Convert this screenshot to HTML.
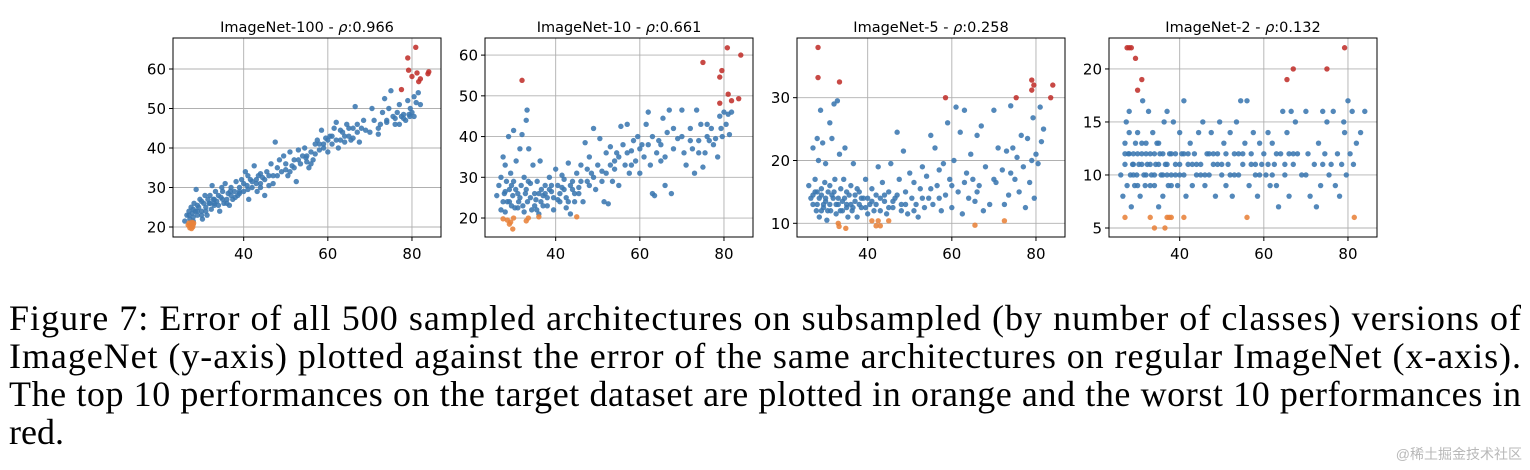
<!DOCTYPE html>
<html><head><meta charset="utf-8"><style>
html,body{margin:0;padding:0;background:#fff;}
svg{display:block;}
</style></head><body>
<svg id="fig" width="1530" height="470" viewBox="0 0 1530 470" xmlns="http://www.w3.org/2000/svg">
<g id="panels"></g>
<g font-family="'Liberation Serif', serif" font-size="36" fill="#000">
<text x="9" y="330" textLength="1512" lengthAdjust="spacing">Figure 7: Error of all 500 sampled architectures on subsampled (by number of classes) versions of</text>
<text x="9" y="368" textLength="1512" lengthAdjust="spacing">ImageNet (y-axis) plotted against the error of the same architectures on regular ImageNet (x-axis).</text>
<text x="9" y="406" textLength="1512" lengthAdjust="spacing">The top 10 performances on the target dataset are plotted in orange and the worst 10 performances in</text>
<text x="9" y="444">red.</text>
</g>
<text x="1522" y="459" text-anchor="end" font-family="'Liberation Sans','Noto Sans CJK SC',sans-serif" font-size="14" fill="#b8b8b8">@稀土掘金技术社区</text>
</svg>
<script>
const xTicks = [40, 60, 80];
const p1Ticks = [20, 30, 40, 50, 60];
const p2Ticks = [20, 30, 40, 50, 60];
const p3Ticks = [10, 20, 30];
const p4Ticks = [5, 10, 15, 20];
const p1Titles = ["ImageNet-100", "0.966"];
const p2Titles = ["ImageNet-10", "0.661"];
const p3Titles = ["ImageNet-5", "0.258"];
const p4Titles = ["ImageNet-2", "0.132"];

const p1Blue = [[26,21.5],[26.5,23],[27,24],[27.2,22],[27.5,25],[27.8,23.5],[28,22.5],[28.2,26],[28.5,24],[28.7,29.5],[29,23],[29.3,25],[29.6,27],[30,24],[30.2,22],[30.5,26],[30.8,28],[31,25],[31.3,23],[31.5,27],[31.8,26],[32,28],[32.3,24.5],[32.5,30.5],[32.8,27],[33,25.5],[33.3,29],[33.6,26.5],[34,28],[34.3,24],[34.6,27.5],[35,29],[35.3,26],[35.6,31],[36,27],[36.3,28.5],[36.6,25.5],[37,30],[37.4,27],[37.8,29],[38.2,31.5],[38.6,28],[39,30],[39.5,32],[40,29],[40.4,34],[40.8,30.5],[41.2,27],[41.6,32],[42,30],[42.5,35.5],[43,31],[43.5,33],[44,30],[44.5,32.5],[45,28],[45.5,34],[46,30.5],[46.5,36],[47,33],[47.5,41.5],[48,35],[48.5,37],[49,34],[49.5,38],[50,36],[50.5,33],[51,39],[51.5,35.5],[52,37],[52.5,31.5],[53,39.5],[53.5,36],[54,38],[54.5,40],[55,36.5],[55.5,35],[56,39],[56.5,37],[57,41],[57.5,42],[58,39.5],[58.5,44.5],[59,40],[59.5,42.5],[60,39],[60.5,43],[61,41],[61.5,45],[62,46.5],[62.5,40],[63,42],[63.5,44],[64,41.5],[64.5,46],[65,43],[65.5,42],[66,45],[66.5,50.5],[67,44],[67.5,41.5],[68,45],[69,44.5],[70,44],[70.5,50],[71,47],[72,43.5],[72.5,46],[73,49],[73.5,52.5],[74,47],[74.5,50],[75,54.5],[75.5,48],[76,47.5],[76.5,49],[77,46],[77.5,48],[78,48.5],[78.5,47],[79,52],[79.3,48.5],[79.6,50],[80,49],[80.5,53],[81,51.5],[81.5,54],[82,51],[34.8,30],[36.8,29],[41,33],[43.2,29],[33,27],[30,26.5],[29,25.5],[28,24.5],[39,28.5],[44,33.5],[47,31],[51,34],[54.8,37.5],[58,41],[63,44.5],[68.5,47],[77,51],[80.5,48],[27,23],[28,21.5],[29,24],[30,23],[31,24],[32,26],[33,26],[34,25.5],[35,27],[36,26],[37,28],[38,27.5],[39,29],[40,31],[41,29.5],[42,31.5],[43,32],[44,31],[45,32],[46,33],[48,33],[50,34.5],[52,35],[53,37],[55,38],[56,36],[57,38.5],[59,41],[60,42],[61,43],[62,42],[64,43],[65,45],[66,42.5],[67,46],[72,45],[74,46.5],[76,46],[78,47.5],[79.5,48]];
const p1Orange = [[26.8,20.5],[27,21],[27.2,19.8],[27.5,20.8],[27.7,21.2],[27.9,20],[28,20.6],[27.3,20.3],[27.6,19.6],[28.1,21]];
const p1Red = [[77.5,54.8],[79,62.8],[79.2,59.7],[80,58.1],[80.9,65.5],[81.2,59],[81.6,56.8],[82,57.5],[83.8,58.8],[84,59.3]];

const p2Blue = [[26,25.5],[26.5,28],[27,30],[27,22],[27.5,35],[27.8,26],[28,33],[28,21.5],[28.3,29],[28.5,24],[28.8,40],[29,27],[29.3,31],[29.5,23],[29.8,25.5],[30,41.5],[30,29],[30.3,22.5],[30.6,34],[31,26],[31.2,24],[31.5,37],[31.8,28],[32,40.5],[32.2,23],[32.5,30],[32.8,26],[33,44],[33.2,46.5],[33.3,24],[33.6,37],[34,28.5],[34.3,22],[34.6,33],[35,26],[35.3,24.5],[35.6,29],[36,21],[36.3,34],[36.6,27],[37,23],[37.5,28],[38,25],[38.5,30],[39,26.5],[39.5,22],[40,32],[40.5,28],[41,24],[41.5,30.5],[42,27],[42.5,25],[43,33.5],[43.5,21],[44,29],[44.5,26],[45,31],[45.5,27.5],[46,33],[46.5,24],[47,38.5],[47.5,29],[48,35],[48.5,31],[49,42],[49.5,27],[50,33],[50.5,39.5],[51,31.5],[51.5,24],[52,36],[52.5,23.5],[53,37.5],[53.5,29],[54,32],[54.5,36],[55,28],[55.5,42.5],[56,38],[56.5,33],[57,43],[57.5,31],[58,36.5],[58.5,39],[59,34],[59.5,40],[60,31],[60.5,38],[61,35],[61.5,43],[62,46],[62.5,33],[63,26],[63.5,25.5],[64,36],[64.5,39],[65,34],[65.5,44.5],[66,28],[66.5,41],[67,46.5],[67.5,26],[68,37],[69,39.5],[70,46.5],[70.5,36],[71,33],[72,42],[72.5,37],[73,31],[73.5,46.5],[74,39],[74.5,43],[75,32.5],[75.5,36],[76,40],[76.5,39],[77,42],[77.5,38],[78,39.5],[78.5,35],[79,45],[79.3,42],[79.6,40],[80,46],[80.5,43],[81,45.5],[81.3,40.5],[81.8,46],[29,24],[31,22.5],[33,27],[35,23],[37,25.5],[39,28],[41,26],[43,24],[34,25],[30.5,27],[28,26.5],[36,26],[38,23],[42,29.5],[44,27],[46,29],[48,28],[52,31],[54,34],[58,33],[62,38],[66,35],[70,40],[74,36],[27.5,24],[29.5,28],[31.5,25],[32.5,21.5],[33.5,29],[35.5,22],[36.5,24],[37.5,26],[38.5,27],[39.5,25],[40.5,24.5],[41.5,27.5],[42.5,22.5],[43.5,28],[44.5,24],[45.5,26],[47.5,32],[49,30],[51,29],[53,33],[55,35],[57,36],[60,37],[63,40],[65,38],[68,42],[72,39],[76,43]];
const p2Orange = [[27.5,19.8],[28.5,19.5],[29,18.5],[29.3,19],[29.8,17.3],[30,20],[33,19.3],[33.5,20],[36,20.3],[45,20.3]];
const p2Red = [[32,53.8],[75,58.2],[79,54.6],[79.5,56.2],[80.8,61.8],[81,50.4],[79,48.2],[81.8,48.8],[83.5,49.3],[84,60]];

const p3Blue = [[26,16],[26.5,14],[27,22],[27,13],[27.5,17],[27.8,12],[28,23.5],[28,15],[28.3,20],[28.5,11],[28.8,28],[29,14.5],[29.3,22.8],[29.5,12.5],[29.8,16.5],[30,19.5],[30,13.5],[30.3,10.5],[30.6,15],[31,26],[31.2,12],[31.5,23.5],[31.8,14],[32,29],[32.2,17],[32.5,11.5],[32.8,29.5],[33,13],[33.3,21],[33.6,15.5],[34,12],[34.3,17],[34.6,22],[35,13],[35.3,11],[35.6,14.5],[36,16],[36.3,12],[36.6,19.5],[37,13.5],[37.5,11],[38,15],[38.5,12.5],[39,14],[39.5,17],[40,11.5],[40.5,13],[41,15.5],[41.5,12],[42,14.5],[42.5,19],[43,12],[43.5,16.5],[44,13.5],[44.5,11.5],[45,15],[45.5,19.5],[46,12.5],[46.5,14],[47,24.5],[47.5,17],[48,13],[48.5,21.5],[49,15],[49.5,11.5],[50,18],[50.5,14],[51,16.5],[51.5,13],[52,11],[52.5,15.5],[53,19],[53.5,12.5],[54,17.5],[54.5,14],[55,24],[55.5,13],[56,22],[56.5,16],[57,18.5],[57.5,12],[58,19.5],[58.5,14.5],[59,26],[59.5,17],[60,12.5],[60.5,20],[61,28.5],[61.5,15],[62,24.5],[62.5,11.5],[63,28],[63.5,18],[64,14],[64.5,21],[65,17],[65.5,13.5],[66,24],[66.5,16],[67,25.5],[67.5,12],[68,19],[69,13],[70,28],[70.5,16.5],[71,22],[72,18.5],[72.5,13],[73,21.5],[73.5,14.5],[74,28.7],[74.5,22],[75,17],[75.5,20.5],[76,15],[76.5,24],[77,19],[77.5,12.5],[78,23.5],[78.5,16.5],[79,20],[79.3,26.8],[79.6,14],[80,21],[80.5,19.5],[81,28.5],[81.3,23],[81.8,25],[27,14.5],[28,13],[29,15.5],[30,14],[31,13],[32,15],[33,14],[34,13.5],[35,15],[36,13],[37,14.5],[38,13],[40,14],[42,13],[44,14.5],[46,13.5],[48,12],[31,16],[29,12],[35,12.5],[27.5,15],[28.5,14],[29.5,13],[30.5,12],[31.5,14.5],[32.5,13],[33.5,12],[34.5,14],[36.5,12.5],[37.5,15.5],[38.5,14],[39.5,12.5],[41,13.5],[43,14],[45,12.5],[47,14.5],[49,13],[51,12],[53,14],[55,15.5],[57,14],[60,16],[63,16.5],[66,15],[70,17],[74,18]];
const p3Orange = [[33,10],[33.2,9.5],[34.8,9.2],[41,10.4],[42,9.6],[42.5,10.4],[43,9.6],[45,10.4],[65.5,9.7],[72.5,10.4]];
const p3Red = [[28.2,38],[28.2,33.2],[33.3,32.5],[58.5,30],[75.3,30],[79,32.8],[79,31.2],[79.5,32],[83.5,30],[84,32]];

const p4Blue = [[26,10],[26.5,8],[27,13],[27,11],[27.3,15],[27.5,9],[27.8,12],[28,14],[28,16],[28.3,10],[28.5,7],[28.8,11],[29,12],[29.3,9],[29.5,13],[29.8,10],[30,14],[30.3,11],[30.6,8],[31,12],[31.2,17],[31.5,10],[31.8,9],[32,13],[32.3,11],[32.6,16],[33,12],[33.3,10],[33.6,14],[34,9],[34.3,11],[34.6,13],[35,7],[35.3,12],[35.6,10],[36,8],[36.3,15],[36.6,11],[37,16],[37.3,9],[37.6,12],[38,10],[38.5,15],[39,11],[39.5,9],[40,14],[40.5,12],[41,17],[41,10],[41.5,8],[42,11],[42.5,13],[43,9],[43.5,12],[44,10],[44.5,14],[45,11],[45.5,15],[46,9],[46.5,12],[47,10],[47.5,14],[48,11],[48.5,8],[49,12],[49.5,15],[50,10],[50.5,13],[51,9],[51.5,11],[52,14],[52.5,8],[53,12],[53.5,15],[54,10],[54.5,17],[55,11],[55.5,13],[56,17],[56.5,9],[57,12],[57.5,14],[58,10],[58.5,8],[59,13],[59.5,11],[60,12],[60.5,10],[61,14],[61.5,9],[62,13],[62.5,11],[63,9],[63.5,7],[64,12],[64.5,16],[65,10],[65.5,14],[66,8],[66.5,16],[67,11],[67.5,15],[68,12],[69,10],[70,16],[70.5,12],[71,8],[72,11],[72.5,7],[73,13],[73.5,9],[74,16],[74.5,12],[75,15],[75.5,10],[76,11],[76.5,16],[77,9],[77.5,12],[78,8],[78.5,11],[79,15],[79.2,14],[79.6,10],[80,17],[80.5,12],[81,16],[81.3,11],[82,13],[83,14],[84,16],[29,11],[30,12],[31,11],[32,10],[33,11],[34,12],[35,11],[36,10],[37,11],[38,12],[39,10],[40,11],[42,12],[44,11],[46,10],[48,12],[50,11],[52,10],[54,12],[58,11],[62,10],[66,12],[70,10],[74,11],[27,12],[28,12],[29,10],[30,9],[31,13],[32,12],[33,9],[34,10],[35,13],[36,12],[37,10],[38,9],[39,12],[40,10],[41,12],[43,11],[45,10],[47,12],[49,11],[51,12],[53,10],[55,12],[57,11],[59,10],[61,11],[63,12],[65,11],[67,12]];
const p4Orange = [[27,6],[33,6],[34,5],[36.5,5],[37,6],[37.5,6],[38,6],[41,6],[56,6],[81.5,6]];
const p4Red = [[27.5,22],[28,22],[28.5,22],[29.5,21],[30,18],[31,19],[65.5,19],[67,20],[75,20],[79.2,22]];

const NS = "http://www.w3.org/2000/svg";
const X_MIN = 23.2, X_MAX = 86.9;
const TOP = 38, BOTTOM = 237, W = 268;
const panelDefs = [
  {key:"imagenet-100", left:173, yMin:17.47, yMax:67.85, ticks:p1Ticks, titles:p1Titles, blue:p1Blue, orange:p1Orange, red:p1Red},
  {key:"imagenet-10", left:485, yMin:15.34, yMax:64.2, ticks:p2Ticks, titles:p2Titles, blue:p2Blue, orange:p2Orange, red:p2Red},
  {key:"imagenet-5", left:797, yMin:7.82, yMax:39.5, ticks:p3Ticks, titles:p3Titles, blue:p3Blue, orange:p3Orange, red:p3Red},
  {key:"imagenet-2", left:1109, yMin:4.15, yMax:22.92, ticks:p4Ticks, titles:p4Titles, blue:p4Blue, orange:p4Orange, red:p4Red}
];
function mk(tag, attrs){const e=document.createElementNS(NS,tag);for(const k in attrs)e.setAttribute(k,attrs[k]);return e;}
const root = document.getElementById("panels");
panelDefs.forEach(p=>{
  const sx = v => p.left + (v - X_MIN)/(X_MAX - X_MIN)*W;
  const sy = v => BOTTOM - (v - p.yMin)/(p.yMax - p.yMin)*(BOTTOM-TOP);
  const g = mk("g",{});
  
  
  root.appendChild(g);
  xTicks.forEach(t=>{
    const l = mk("line",{x1:sx(t),x2:sx(t),y1:TOP,y2:BOTTOM,stroke:"#b0b0b0","stroke-width":0.9});
    
    
    g.appendChild(l);
    const tk = mk("line",{x1:sx(t),x2:sx(t),y1:BOTTOM,y2:BOTTOM+4,stroke:"#000","stroke-width":1});
    
    
    g.appendChild(tk);
    const tx = mk("text",{x:sx(t),y:BOTTOM+22,"text-anchor":"middle","font-family":"'DejaVu Sans',sans-serif","font-size":15,fill:"#000"});
    tx.textContent = t;
    
    
    g.appendChild(tx);
  });
  p.ticks.forEach(t=>{
    const l = mk("line",{x1:p.left,x2:p.left+W,y1:sy(t),y2:sy(t),stroke:"#b0b0b0","stroke-width":0.9});
    
    
    g.appendChild(l);
    const tk = mk("line",{x1:p.left-4,x2:p.left,y1:sy(t),y2:sy(t),stroke:"#000","stroke-width":1});
    
    
    g.appendChild(tk);
    const tx = mk("text",{x:p.left-7,y:sy(t)+5.5,"text-anchor":"end","font-family":"'DejaVu Sans',sans-serif","font-size":15,fill:"#000"});
    tx.textContent = t;
    
    
    g.appendChild(tx);
  });
  const drawPts = (arr, color, name) => arr.forEach(d=>{
    const c = mk("circle",{cx:sx(d[0]),cy:sy(d[1]),r:2.7,fill:color,"fill-opacity":0.88});
    
    
    g.appendChild(c);
  });
  drawPts(p.blue, "#3b78b0", "architecture-point");
  drawPts(p.orange, "#e8823a", "top-10-point");
  drawPts(p.red, "#c0302b", "worst-10-point");
  const frame = mk("rect",{x:p.left,y:TOP,width:W,height:BOTTOM-TOP,fill:"none",stroke:"#000","stroke-width":1});
  
  
  g.appendChild(frame);
  const title = mk("text",{x:p.left+W/2,y:TOP-6,"text-anchor":"middle","font-family":"'DejaVu Sans',sans-serif","font-size":14.5,fill:"#000"});
  
  
  const t1 = mk("tspan",{}); t1.textContent = p.titles[0] + " - ";
  const t2 = mk("tspan",{"font-style":"italic"}); t2.textContent = "ρ";
  const t3 = mk("tspan",{}); t3.textContent = ":" + p.titles[1];
  title.appendChild(t1); title.appendChild(t2); title.appendChild(t3);
  g.appendChild(title);
});
</script>
</body></html>
